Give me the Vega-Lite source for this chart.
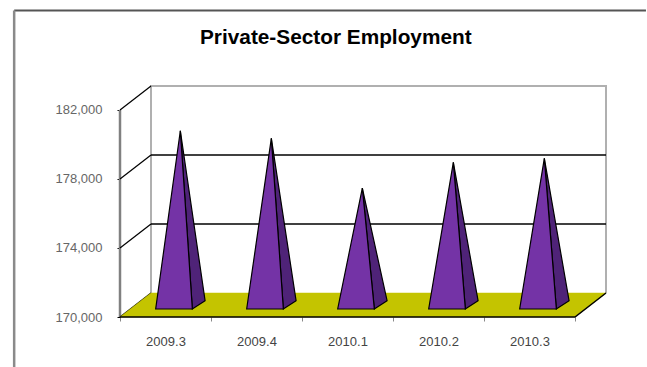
{
  "$schema": "https://vega.github.io/schema/vega-lite/v6.json",
  "width": 486,
  "height": 231,
  "padding": {"left": 120, "top": 86, "right": 41, "bottom": 50},
  "autosize": {"type": "none"},
  "background": "#ffffff",
  "config": {"view": {"stroke": null}},
  "title": {
    "text": "Private-Sector Employment",
    "font": "Liberation Sans",
    "fontSize": 20.8,
    "fontWeight": "bold",
    "color": "#000000",
    "anchor": "start",
    "frame": "group",
    "dx": 80,
    "offset": 0,
    "dy": 43
  },
  "datasets": {
    "employment": [
      {"quarter": "2009.3", "value": 180100},
      {"quarter": "2009.4", "value": 179660},
      {"quarter": "2010.1", "value": 176780},
      {"quarter": "2010.2", "value": 178270},
      {"quarter": "2010.3", "value": 178500}
    ],
    "gridlevels": [
      {"level": 174000},
      {"level": 178000}
    ],
    "axislevels": [
      {"level": 170000},
      {"level": 174000},
      {"level": 178000},
      {"level": 182000}
    ],
    "floor": [
      {"step": 0, "pos": 0, "v": 170000},
      {"step": 1, "pos": 5, "v": 170000},
      {"step": 2, "pos": 5.3407, "v": 171391},
      {"step": 3, "pos": 0.3407, "v": 171391}
    ],
    "floorEdge": [
      {"step": 0, "pos": 0, "v": 170000},
      {"step": 1, "pos": 5, "v": 170000},
      {"step": 2, "pos": 5.3407, "v": 171391}
    ],
    "wallEdge": [
      {"step": 0, "pos": 0.3407, "v": 171391},
      {"step": 1, "pos": 0.3407, "v": 183391},
      {"step": 2, "pos": 5.3407, "v": 183391},
      {"step": 3, "pos": 5.3407, "v": 171391}
    ],
    "sideEdge": [
      {"step": 0, "pos": 0, "v": 170000},
      {"step": 1, "pos": 0, "v": 182000}
    ],
    "frameTop": [
      {"step": 0, "pos": -1.163, "v": 187770},
      {"step": 1, "pos": 5.78, "v": 187770}
    ],
    "frameLeft": [
      {"step": 0, "pos": -1.163, "v": 187770},
      {"step": 1, "pos": -1.163, "v": 167100}
    ]
  },
  "encoding": {
    "x": {
      "field": "pos",
      "type": "quantitative",
      "scale": {"domain": [0, 5.3407], "nice": false, "zero": false},
      "axis": {
        "title": null,
        "orient": "bottom",
        "domain": false,
        "grid": false,
        "values": [0, 0.5, 1, 1.5, 2, 2.5, 3, 3.5, 4, 4.5, 5],
        "labelExpr": "datum.value === 0.5 ? '2009.3' : datum.value === 1.5 ? '2009.4' : datum.value === 2.5 ? '2010.1' : datum.value === 3.5 ? '2010.2' : datum.value === 4.5 ? '2010.3' : ''",
        "labelFont": "Liberation Sans",
        "labelFontSize": 13,
        "labelColor": "#444444",
        "labelPadding": 14,
        "labelBound": false,
        "labelFlush": false,
        "labelOverlap": false,
        "tickColor": "#888888",
        "tickSize": 4,
        "tickOpacity": {"expr": "datum.value % 1 === 0 ? 1 : 0"}
      }
    },
    "y": {
      "field": "v",
      "type": "quantitative",
      "scale": {"domain": [170000, 183391], "nice": false, "zero": false},
      "axis": {
        "title": null,
        "domain": false,
        "grid": false,
        "values": [170000, 174000, 178000, 182000],
        "labelExpr": "format(datum.value, ',')",
        "labelFont": "Liberation Sans",
        "labelFontSize": 13,
        "labelColor": "#666666",
        "labelPadding": 15,
        "tickColor": "#000000",
        "tickSize": 3
      }
    },
    "order": {"field": "step", "type": "quantitative"}
  },
  "layer": [
    {
      "data": {"name": "frameTop"},
      "mark": {"type": "line", "stroke": "#555555", "strokeWidth": 2, "clip": false}
    },
    {
      "data": {"name": "frameLeft"},
      "mark": {"type": "line", "stroke": "#8a8a8a", "strokeWidth": 2.5, "clip": false}
    },
    {
      "data": {"name": "wallEdge"},
      "mark": {"type": "line", "stroke": "#b0b0b0", "strokeWidth": 2, "clip": false}
    },
    {
      "data": {"name": "sideEdge"},
      "mark": {"type": "line", "stroke": "#808080", "strokeWidth": 2.5, "clip": false}
    },
    {
      "data": {"name": "axislevels"},
      "transform": [
        {"calculate": "[0, 1]", "as": "step"},
        {"flatten": ["step"]},
        {"calculate": "datum.step * 0.3407", "as": "pos"},
        {"calculate": "datum.level + datum.step * 1391", "as": "v"}
      ],
      "mark": {"type": "line", "stroke": "#000000", "strokeWidth": 1.2, "clip": false},
      "encoding": {"detail": {"field": "level", "type": "quantitative"}}
    },
    {
      "data": {"name": "gridlevels"},
      "transform": [
        {"calculate": "[0, 1]", "as": "step"},
        {"flatten": ["step"]},
        {"calculate": "0.3407 + datum.step * 5", "as": "pos"},
        {"calculate": "datum.level + 1391", "as": "v"}
      ],
      "mark": {"type": "line", "stroke": "#000000", "strokeWidth": 1.4, "clip": false},
      "encoding": {"detail": {"field": "level", "type": "quantitative"}}
    },
    {
      "data": {"name": "floor"},
      "mark": {"type": "line", "interpolate": "linear-closed", "fill": "#c4c400", "stroke": "#c4c400", "strokeWidth": 0.5, "clip": false}
    },
    {
      "data": {"name": "floorEdge"},
      "mark": {"type": "line", "stroke": "#000000", "strokeWidth": 1.5, "clip": false}
    },
    {
      "data": {"name": "employment"},
      "transform": [
        {"window": [{"op": "row_number", "as": "n"}]},
        {"calculate": "[0, 1, 2]", "as": "step"},
        {"flatten": ["step"]},
        {"calculate": "datum.n - 1 + [0.663, 0.795, 0.935][datum.step]", "as": "pos"},
        {"calculate": "[datum.value + 696, 170464, 170945][datum.step]", "as": "v"}
      ],
      "mark": {"type": "line", "interpolate": "linear-closed", "fill": "#4f2378", "stroke": "#000000", "strokeWidth": 1.2, "clip": false},
      "encoding": {"detail": {"field": "quarter", "type": "nominal"}}
    },
    {
      "data": {"name": "employment"},
      "transform": [
        {"window": [{"op": "row_number", "as": "n"}]},
        {"calculate": "[0, 1, 2]", "as": "step"},
        {"flatten": ["step"]},
        {"calculate": "datum.n - 1 + [0.392, 0.663, 0.795][datum.step]", "as": "pos"},
        {"calculate": "[170464, datum.value + 696, 170464][datum.step]", "as": "v"}
      ],
      "mark": {"type": "line", "interpolate": "linear-closed", "fill": "#7433a6", "stroke": "#000000", "strokeWidth": 1.2, "clip": false},
      "encoding": {"detail": {"field": "quarter", "type": "nominal"}}
    }
  ]
}
